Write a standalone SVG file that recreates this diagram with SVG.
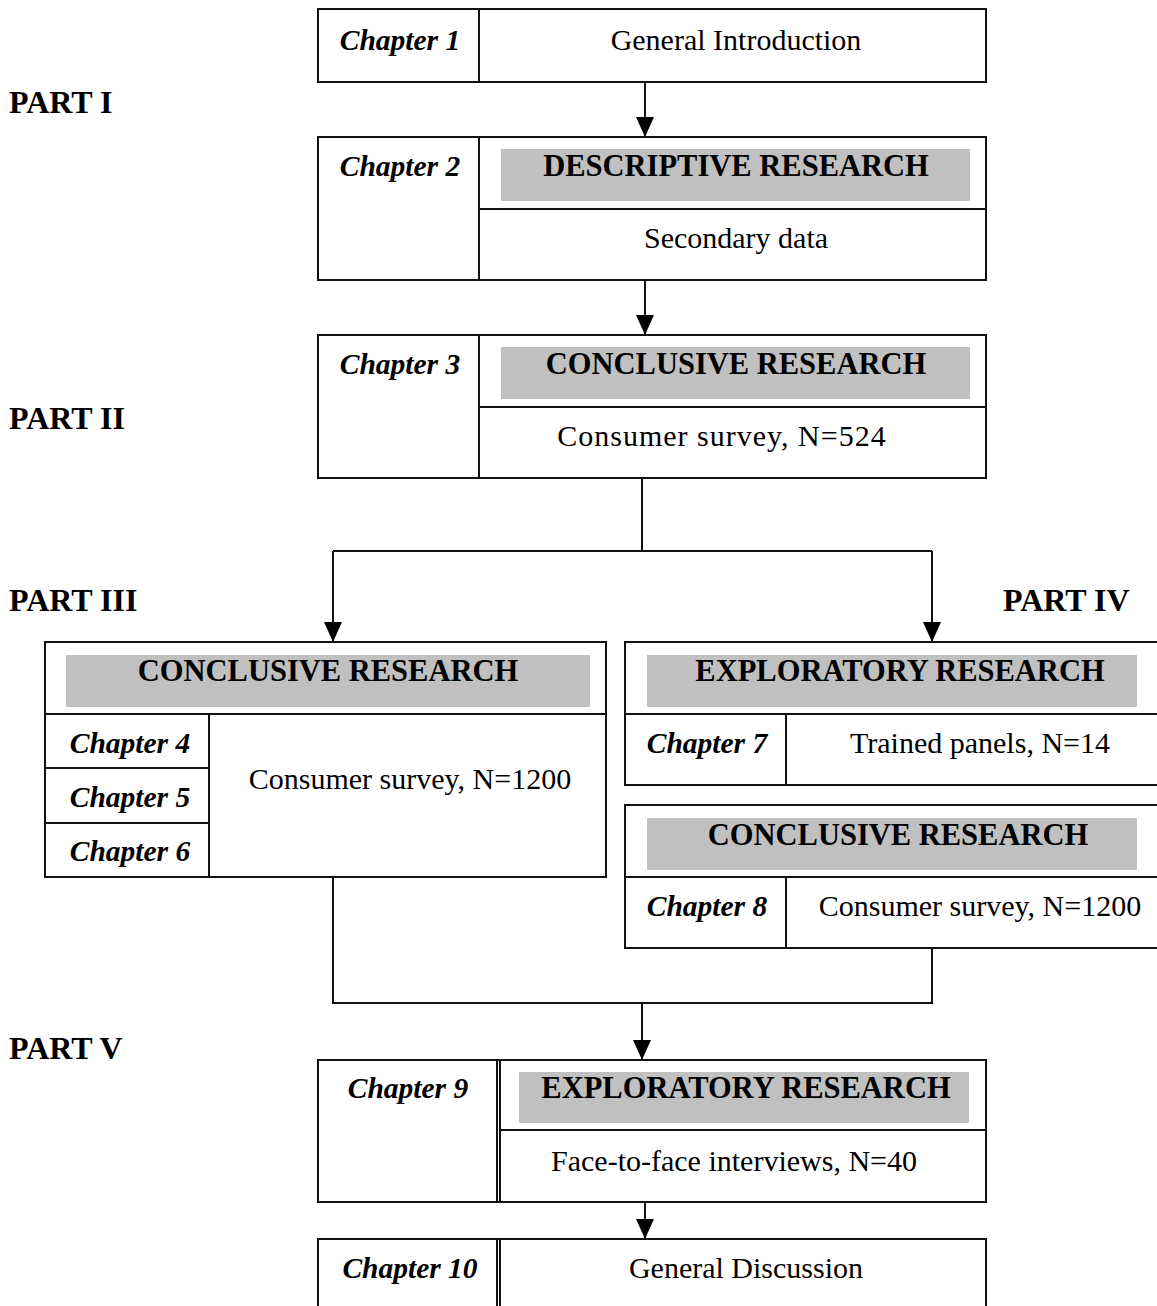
<svg xmlns="http://www.w3.org/2000/svg" width="1157" height="1306" viewBox="0 0 1157 1306">
  <style>
    .box { fill: #fff; stroke: #111; stroke-width: 2; }
    .ln { stroke: #111; stroke-width: 2; fill: none; }
    .band { fill: #c0c0c0; stroke: none; }
    .ch { font-family: "Liberation Serif", serif; font-size: 29.5px; font-weight: bold; font-style: italic; text-anchor: middle; fill: #000; }
    .tx { font-family: "Liberation Serif", serif; font-size: 30px; text-anchor: middle; fill: #000; }
    .hd { font-family: "Liberation Serif", serif; font-size: 30.5px; font-weight: bold; text-anchor: middle; fill: #000; }
    .part { font-family: "Liberation Serif", serif; font-size: 32px; font-weight: bold; fill: #000; }
    .conn { stroke: #111; stroke-width: 2; fill: none; }
  </style>
  <defs>
    <marker id="arrowBig" viewBox="0 0 20 18" refX="20" refY="9" markerWidth="20" markerHeight="18" markerUnits="userSpaceOnUse" orient="auto">
      <path d="M0,0 L20,9 L0,18 z" fill="#000"/>
    </marker>
  </defs>

  <rect width="1157" height="1306" fill="#fff"/>

  <!-- part labels -->
  <g id="parts">
    <text class="part" x="9" y="113">PART I</text>
    <text class="part" x="9" y="429">PART II</text>
    <text class="part" x="9" y="611">PART III</text>
    <text class="part" x="1003" y="611">PART IV</text>
    <text class="part" x="9" y="1059">PART V</text>
  </g>

  <!-- connectors -->
  <g id="connectors">
    <line class="conn" x1="645" y1="82" x2="645" y2="137" marker-end="url(#arrowBig)"/>
    <line class="conn" x1="645" y1="280" x2="645" y2="335" marker-end="url(#arrowBig)"/>
    <polyline class="conn" points="642,478 642,551"/>
    <polyline class="conn" points="333,551 932,551"/>
    <line class="conn" x1="333" y1="551" x2="333" y2="642" marker-end="url(#arrowBig)"/>
    <line class="conn" x1="932" y1="551" x2="932" y2="642" marker-end="url(#arrowBig)"/>
    <polyline class="conn" points="333,877 333,1003 932,1003 932,948"/>
    <line class="conn" x1="642" y1="1003" x2="642" y2="1060" marker-end="url(#arrowBig)"/>
    <line class="conn" x1="645" y1="1202" x2="645" y2="1239" marker-end="url(#arrowBig)"/>
  </g>

  <!-- Chapter 1 -->
  <g id="chapter1">
    <rect class="box" x="318" y="9" width="668" height="73"/>
    <line class="ln" x1="479" y1="9" x2="479" y2="82"/>
    <text class="ch" x="400" y="50">Chapter 1</text>
    <text class="tx" x="736" y="50">General Introduction</text>
  </g>

  <!-- Chapter 2 -->
  <g id="chapter2">
    <rect class="box" x="318" y="137" width="668" height="143"/>
    <line class="ln" x1="479" y1="137" x2="479" y2="280"/>
    <rect class="band" x="501" y="149" width="469" height="52"/>
    <line class="ln" x1="479" y1="209" x2="986" y2="209"/>
    <text class="ch" x="400" y="176">Chapter 2</text>
    <text class="hd" x="736" y="176">DESCRIPTIVE RESEARCH</text>
    <text class="tx" x="736" y="248">Secondary data</text>
  </g>

  <!-- Chapter 3 -->
  <g id="chapter3">
    <rect class="box" x="318" y="335" width="668" height="143"/>
    <line class="ln" x1="479" y1="335" x2="479" y2="478"/>
    <rect class="band" x="501" y="347" width="469" height="52"/>
    <line class="ln" x1="479" y1="407" x2="986" y2="407"/>
    <text class="ch" x="400" y="374">Chapter 3</text>
    <text class="hd" x="736" y="374">CONCLUSIVE RESEARCH</text>
    <text class="tx" x="722" y="446" style="letter-spacing:1px">Consumer survey, N=524</text>
  </g>

  <!-- Chapters 4-6 -->
  <g id="chapters4to6">
    <rect class="box" x="45" y="642" width="561" height="235"/>
    <rect class="band" x="66" y="655" width="524" height="52"/>
    <line class="ln" x1="45" y1="714" x2="606" y2="714"/>
    <line class="ln" x1="209" y1="714" x2="209" y2="877"/>
    <line class="ln" x1="45" y1="768" x2="209" y2="768"/>
    <line class="ln" x1="45" y1="823" x2="209" y2="823"/>
    <text class="hd" x="328" y="681">CONCLUSIVE RESEARCH</text>
    <text class="ch" x="130" y="753">Chapter 4</text>
    <text class="ch" x="130" y="807">Chapter 5</text>
    <text class="ch" x="130" y="861">Chapter 6</text>
    <text class="tx" x="410" y="789">Consumer survey, N=1200</text>
  </g>

  <!-- Chapter 7 -->
  <g id="chapter7">
    <rect class="box" x="625" y="642" width="540" height="143"/>
    <rect class="band" x="647" y="655" width="490" height="52"/>
    <line class="ln" x1="625" y1="714" x2="1157" y2="714"/>
    <line class="ln" x1="786" y1="714" x2="786" y2="785"/>
    <text class="hd" x="900" y="681">EXPLORATORY RESEARCH</text>
    <text class="ch" x="707" y="753">Chapter 7</text>
    <text class="tx" x="980" y="753">Trained panels, N=14</text>
  </g>

  <!-- Chapter 8 -->
  <g id="chapter8">
    <rect class="box" x="625" y="805" width="540" height="143"/>
    <rect class="band" x="647" y="818" width="490" height="52"/>
    <line class="ln" x1="625" y1="877" x2="1157" y2="877"/>
    <line class="ln" x1="786" y1="877" x2="786" y2="948"/>
    <text class="hd" x="898" y="845">CONCLUSIVE RESEARCH</text>
    <text class="ch" x="707" y="916">Chapter 8</text>
    <text class="tx" x="980" y="916">Consumer survey, N=1200</text>
  </g>

  <!-- Chapter 9 -->
  <g id="chapter9">
    <rect class="box" x="318" y="1060" width="668" height="142"/>
    <line class="ln" x1="497" y1="1060" x2="497" y2="1202"/>
    <line class="ln" x1="500" y1="1060" x2="500" y2="1202"/>
    <rect class="band" x="519" y="1072" width="450" height="51"/>
    <line class="ln" x1="500" y1="1130" x2="986" y2="1130"/>
    <text class="ch" x="408" y="1098">Chapter 9</text>
    <text class="hd" x="746" y="1098">EXPLORATORY RESEARCH</text>
    <text class="tx" x="734" y="1171">Face-to-face interviews, N=40</text>
  </g>

  <!-- Chapter 10 -->
  <g id="chapter10">
    <rect class="box" x="318" y="1239" width="668" height="80"/>
    <line class="ln" x1="497" y1="1239" x2="497" y2="1306"/>
    <line class="ln" x1="500" y1="1239" x2="500" y2="1306"/>
    <text class="ch" x="410" y="1278">Chapter 10</text>
    <text class="tx" x="746" y="1278">General Discussion</text>
  </g>
</svg>
